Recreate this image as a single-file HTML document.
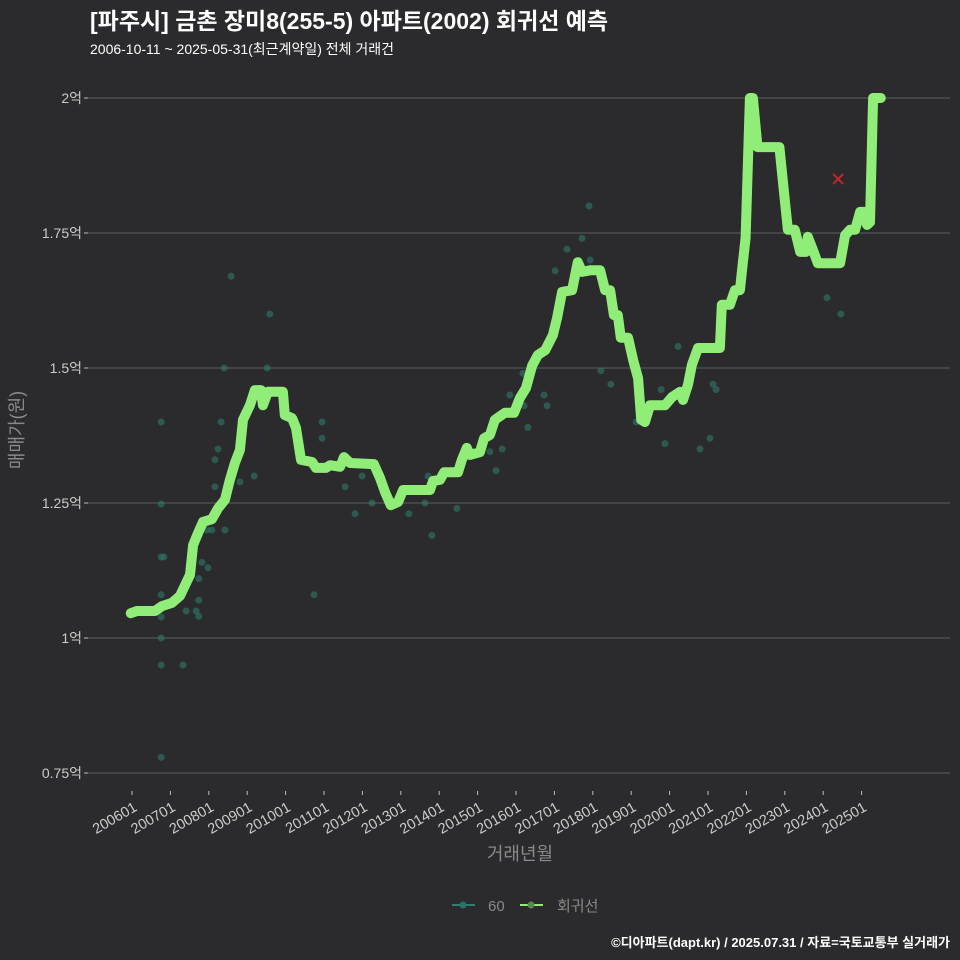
<!DOCTYPE html>
<html><head><meta charset="utf-8">
<style>
html,body{margin:0;padding:0;background:#2b2a2c;}
svg{display:block;font-family:"Liberation Sans","Noto Sans CJK KR",sans-serif;}
</style></head>
<body>
<svg id="chart" width="960" height="960" viewBox="0 0 960 960">
<rect width="960" height="960" fill="#2b2a2c"/>
<text x="90" y="29" fill="#ffffff" font-size="23" font-weight="bold">[파주시] 금촌 장미8(255-5) 아파트(2002) 회귀선 예측</text>
<text x="90" y="54" fill="#ffffff" font-size="14">2006-10-11 ~ 2025-05-31(최근계약일) 전체 거래건</text>
<g id="grid"></g>
<g id="xaxis"></g>
<g id="points"></g>
<g id="line"></g>
<text transform="translate(23,430) rotate(-90)" text-anchor="middle" fill="#8a8a8a" font-size="18">매매가(원)</text>
<text x="520" y="860" text-anchor="middle" fill="#8a8a8a" font-size="18">거래년월</text>
<g>
<g>
<line x1="452" y1="905" x2="475" y2="905" stroke="#2e7f78" stroke-width="2"/>
<circle cx="463" cy="905" r="3.5" fill="#2e6f66"/>
<text x="488" y="911" fill="#8a8a8a" font-size="15">60</text>
</g>
<g>
<line x1="520" y1="905" x2="543" y2="905" stroke="#90ee78" stroke-width="2"/>
<circle cx="531" cy="905" r="3.5" fill="#5a8a4a"/>
<text x="557" y="911" fill="#8a8a8a" font-size="15">회귀선</text>
</g>
</g>
<text x="950" y="947" text-anchor="end" fill="#ffffff" font-size="13" font-weight="bold">©디아파트(dapt.kr) / 2025.07.31 / 자료=국토교통부 실거래가</text>
</svg>
<script>
const yTicks=[0.75,1,1.25,1.5,1.75,2];
const yTickLabels=["0.75억","1억","1.25억","1.5억","1.75억","2억"];
const xTickYears=[2006,2007,2008,2009,2010,2011,2012,2013,2014,2015,2016,2017,2018,2019,2020,2021,2022,2023,2024,2025];
const xTickLabels=["200601","200701","200801","200901","201001","201101","201201","201301","201401","201501","201601","201701","201801","201901","202001","202101","202201","202301","202401","202501"];
const lineYears=[2005.97,2006.13,2006.6,2006.78,2007.04,2007.25,2007.51,2007.59,2007.72,2007.85,2008.08,2008.24,2008.42,2008.55,2008.68,2008.81,2008.89,2009.07,2009.2,2009.36,2009.41,2009.54,2009.93,2009.98,2010.17,2010.27,2010.40,2010.69,2010.79,2011.05,2011.16,2011.42,2011.52,2011.68,2012.30,2012.46,2012.59,2012.74,2012.93,2013.06,2013.76,2013.84,2014.02,2014.13,2014.49,2014.59,2014.72,2014.8,2015.06,2015.17,2015.32,2015.45,2015.71,2015.95,2016.1,2016.26,2016.42,2016.57,2016.76,2016.96,2017.07,2017.2,2017.46,2017.54,2017.61,2017.72,2017.93,2018.19,2018.32,2018.45,2018.55,2018.65,2018.73,2018.92,2019.05,2019.18,2019.26,2019.36,2019.49,2019.88,2020.06,2020.27,2020.35,2020.48,2020.58,2020.74,2021.31,2021.36,2021.57,2021.70,2021.83,2021.91,2021.98,2022.09,2022.17,2022.29,2022.86,2023.0,2023.08,2023.26,2023.4,2023.55,2023.6,2023.73,2023.86,2024.44,2024.57,2024.70,2024.83,2024.96,2025.07,2025.14,2025.22,2025.3,2025.5];
const lineValues=[1.046,1.05,1.05,1.059,1.065,1.078,1.117,1.172,1.194,1.215,1.22,1.24,1.256,1.293,1.324,1.348,1.404,1.431,1.459,1.459,1.431,1.456,1.456,1.413,1.407,1.389,1.33,1.326,1.315,1.315,1.32,1.317,1.335,1.324,1.322,1.296,1.27,1.246,1.252,1.274,1.274,1.291,1.293,1.307,1.307,1.33,1.352,1.339,1.344,1.37,1.376,1.404,1.417,1.417,1.444,1.463,1.504,1.524,1.533,1.561,1.593,1.641,1.644,1.672,1.696,1.678,1.681,1.681,1.644,1.644,1.598,1.598,1.556,1.556,1.515,1.481,1.404,1.4,1.431,1.431,1.446,1.456,1.441,1.469,1.506,1.537,1.537,1.617,1.617,1.644,1.644,1.696,1.741,2.0,2.0,1.909,1.909,1.811,1.756,1.756,1.715,1.715,1.743,1.719,1.694,1.694,1.746,1.756,1.756,1.789,1.789,1.765,1.77,2.0,2.0];
const ptYears=[2006.76,2006.76,2006.76,2006.83,2006.76,2006.76,2006.76,2006.76,2007.33,2006.76,2008.32,2008.24,2008.16,2008.16,2008.08,2008.42,2007.95,2007.82,2007.98,2007.74,2007.74,2007.67,2007.41,2007.74,2009.18,2008.81,2008.40,2008.58,2009.59,2009.52,2010.74,2010.95,2010.95,2011.55,2011.81,2012.25,2011.99,2013.21,2013.63,2013.81,2013.71,2014.46,2015.32,2015.48,2015.64,2015.84,2016.31,2016.21,2016.18,2016.73,2016.81,2017.02,2017.33,2017.72,2017.90,2017.93,2018.21,2018.47,2018.55,2019.13,2019.78,2019.88,2020.22,2020.79,2021.05,2021.13,2021.21,2024.10,2024.46];
const ptValues=[1.40,1.248,1.15,1.15,1.08,1.039,1.0,0.95,0.95,0.779,1.40,1.35,1.33,1.28,1.2,1.2,1.2,1.14,1.13,1.11,1.07,1.05,1.05,1.04,1.3,1.289,1.5,1.67,1.6,1.5,1.08,1.4,1.37,1.28,1.23,1.25,1.3,1.23,1.25,1.19,1.3,1.24,1.345,1.31,1.35,1.45,1.39,1.43,1.49,1.45,1.43,1.68,1.72,1.74,1.80,1.70,1.495,1.47,1.6,1.40,1.46,1.36,1.54,1.35,1.37,1.47,1.46,1.63,1.60];
const predYear=[2024.39];
const predValue=[1.85];

const NS="http://www.w3.org/2000/svg";
function xs(y){return 132+(y-2006)*38.4;}
function ys(v){return 98+(2-v)*540;}
function mk(tag,attrs,parent){const e=document.createElementNS(NS,tag);for(const k in attrs)e.setAttribute(k,attrs[k]);parent.appendChild(e);return e;}
const grid=document.getElementById('grid');
yTicks.forEach((v,i)=>{
  const l=mk('line',{x1:88,x2:950,y1:ys(v),y2:ys(v),stroke:'#5e5e60','stroke-width':1},grid);
  
  
  const tk=mk('line',{x1:84,x2:88,y1:ys(v),y2:ys(v),stroke:'#bbbbbb','stroke-width':1},grid);
  
  
  const t=mk('text',{x:82,y:ys(v)+5,'text-anchor':'end',fill:'#cccccc','font-size':14},grid);
  t.textContent=yTickLabels[i];
  
  
});
const xa=document.getElementById('xaxis');
xTickYears.forEach((y,i)=>{
  const x=xs(y);
  const tk=mk('line',{x1:x,x2:x,y1:791,y2:795,stroke:'#bbbbbb','stroke-width':1},xa);
  
  
  const t=mk('text',{x:x+6,y:810,'text-anchor':'end',fill:'#cccccc','font-size':14.5,transform:`rotate(-30 ${x+6} 810)`},xa);
  t.textContent=xTickLabels[i];
  
  
});
const pts=document.getElementById('points');
ptYears.forEach((y,i)=>{
  const c=mk('circle',{cx:xs(y),cy:ys(ptValues[i]),r:3.5,fill:'#2e7a6c','fill-opacity':0.6},pts);
  
  
});
const lg=document.getElementById('line');
const d=lineYears.map((y,i)=>(i?'L':'M')+xs(y).toFixed(1)+','+ys(lineValues[i]).toFixed(1)).join('');
const p=mk('path',{d:d,fill:'none',stroke:'#90ee78','stroke-width':10,'stroke-linejoin':'round','stroke-linecap':'round'},lg);


const px=xs(predYear[0]),py=ys(predValue[0]);
const xm=mk('path',{d:`M${px-5},${py-5}L${px+5},${py+5}M${px-5},${py+5}L${px+5},${py-5}`,stroke:'#c0272d','stroke-width':2},lg);


</script>
</body></html>
